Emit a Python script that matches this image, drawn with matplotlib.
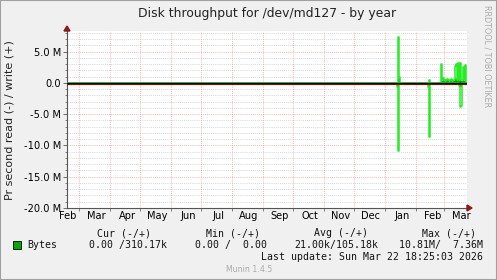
import datetime as dt
import matplotlib
matplotlib.use("Agg")
import matplotlib.pyplot as plt
import matplotlib.dates as mdates
import matplotlib.transforms as mtrans
from matplotlib.ticker import FuncFormatter, MultipleLocator
import numpy as np

W, H = 497, 280

# graph window (400 days)
start = dt.date(2025, 2, 17)
ndays = 400

# per day values (bytes/s), other days are zero
write_days = ["2026-01-14", "2026-01-15", "2026-02-14", "2026-02-26", "2026-02-27",
              "2026-02-28", "2026-03-01", "2026-03-02", "2026-03-03", "2026-03-04",
              "2026-03-05", "2026-03-06", "2026-03-07", "2026-03-08", "2026-03-09",
              "2026-03-10", "2026-03-11", "2026-03-12", "2026-03-13", "2026-03-14",
              "2026-03-15", "2026-03-16", "2026-03-17", "2026-03-18", "2026-03-19",
              "2026-03-20", "2026-03-21", "2026-03-22"]
write_vals = [7.36, 1.0, 0.5, 3.0, 0.4,
              0.75, 0.4, 0.35, 0.4, 0.7,
              0.4, 0.35, 0.4, 0.6, 0.35,
              0.4, 0.45, 2.7, 3.0, 0.5,
              3.15, 0.5, 3.25, 0.4, 0.4,
              2.6, 0.4, 2.8]
read_days = ["2026-01-13", "2026-01-14", "2026-02-13", "2026-02-14",
             "2026-03-16", "2026-03-17", "2026-03-18"]
read_vals = [0.6, 10.81, 0.6, 8.6, 0.5, 3.9, 3.7]

month_names = ["Feb", "Mar", "Apr", "May", "Jun", "Jul", "Aug", "Sep",
               "Oct", "Nov", "Dec", "Jan", "Feb", "Mar"]

legend_head = ["Cur (-/+)", "Min (-/+)", "Avg (-/+)", "Max (-/+)"]
legend_vals = ["0.00 /310.17k", "0.00 /  0.00", "21.00k/105.18k", "10.81M/  7.36M"]

days = [start + dt.timedelta(days=i) for i in range(ndays + 1)]
write = np.zeros(len(days))
read = np.zeros(len(days))
for d, v in zip(write_days, write_vals):
    write[(dt.date.fromisoformat(d) - start).days] = v * 1e6
for d, v in zip(read_days, read_vals):
    read[(dt.date.fromisoformat(d) - start).days] = -v * 1e6
x = mdates.date2num(days)

fig = plt.figure(figsize=(W / 100, H / 100), dpi=100, facecolor="#f0f0f0")

def fx(px):
    return px / W

def fy(py):
    return 1 - py / H

ax = fig.add_axes([fx(67), fy(208), fx(400), (208 - 31) / H])
ax.set_facecolor("#ffffff")
ax.set_xlim(x[0], x[-1])
ax.set_ylim(-20e6, 8.3e6)

# grid
for v in np.arange(-19e6, 8.5e6, 1e6):
    if abs(v % 5e6) > 1:
        ax.axhline(v, color="#c8c8c8", lw=0.6, ls=(0, (1, 1.5)), zorder=1)
for v in [5e6, -5e6, -10e6, -15e6]:
    ax.axhline(v, color="#f0a0a0", lw=0.6, ls=(0, (1, 1.5)), zorder=1)
month_starts = []
for yr, mo in [(2025, m) for m in range(3, 13)] + [(2026, m) for m in range(1, 4)]:
    month_starts.append(mdates.date2num(dt.date(yr, mo, 1)))
for m in month_starts:
    ax.axvline(m, color="#f0a0a0", lw=0.6, ls=(0, (1, 1.5)), zorder=1)

# data
ax.plot(x, write, color="#22ee22", lw=1.1, drawstyle="steps-mid", zorder=3)
ax.plot(x, read, color="#22ee22", lw=1.1, drawstyle="steps-mid", zorder=3)
ax.fill_between(x, 0, np.clip(write, 0, 0.8e6), step="mid", color="#00aa00", lw=0, zorder=2)
ax.fill_between(x, 0, np.clip(read, -0.6e6, 0), step="mid", color="#00aa00", lw=0, zorder=2)

# zero line
off = mtrans.offset_copy(ax.transData, fig=fig, x=0, y=-1, units="dots")
ax.plot([x[0], x[-1]], [0, 0], color="#bb0000", lw=0.8, zorder=4, transform=off)
ax.plot([x[0], x[-1]], [0, 0], color="black", lw=1.0, zorder=5)

for s in ["top", "right"]:
    ax.spines[s].set_visible(False)
for s in ["left", "bottom"]:
    ax.spines[s].set_color("#555555")
    ax.spines[s].set_linewidth(0.8)

ax.yaxis.set_major_locator(MultipleLocator(5e6))
ax.yaxis.set_minor_locator(MultipleLocator(1e6))

def yfmt(v, pos):
    if abs(v) < 1:
        return "0.0"
    return "%.1f M" % (v / 1e6)

ax.yaxis.set_major_formatter(FuncFormatter(yfmt))
ax.tick_params(axis="y", which="major", length=3, width=0.6, color="#555555",
               labelsize=7.1, pad=1.5)
ax.tick_params(axis="y", which="minor", length=1.5, width=0.5, color="#555555")

ax.set_xticks(month_starts)
ax.set_xticklabels([])
ax.tick_params(axis="x", which="major", length=2, width=0.5, color="#555555")
label_pos = [mdates.date2num(dt.date(2025, m, 18)) for m in range(2, 13)] + \
            [mdates.date2num(dt.date(2026, m, 18)) for m in range(1, 4)]
ax.set_xticks(label_pos, minor=True)
ax.set_xticklabels(month_names, minor=True)
ax.tick_params(axis="x", which="minor", length=0, labelsize=7.1, pad=2)

# arrows
fig.patches.append(plt.Polygon([[fx(64), fy(31)], [fx(70), fy(31)], [fx(67), fy(26)]],
                               closed=True, color="#8b1a1a", transform=fig.transFigure))
fig.patches.append(plt.Polygon([[fx(467), fy(205)], [fx(467), fy(211)], [fx(472), fy(208)]],
                               closed=True, color="#8b1a1a", transform=fig.transFigure))

# texts
fig.text(fx(267), fy(13), "Disk throughput for /dev/md127 - by year",
         ha="center", va="center", fontsize=8.9, color="#222222")
fig.text(fx(10), fy(120), "Pr second read (-) / write (+)", rotation=90,
         ha="center", va="center", fontsize=8.0, color="#222222")
fig.text(fx(487), fy(5), "RRDTOOL / TOBI OETIKER", rotation=270,
         ha="center", va="top", fontsize=5.8, color="#aaaaaa")

mono = "DejaVu Sans Mono"
head_right = [151, 260, 368, 476]
val_right = [167, 267, 378, 483]
for t, r in zip(legend_head, head_right):
    fig.text(fx(r), fy(233), t, ha="right", va="center", fontsize=7.1,
             family=mono, color="#111111")
fig.patches.append(plt.Rectangle((fx(13), fy(249)), fx(8), 8 / H, facecolor="#00aa00",
                                 edgecolor="black", lw=0.6, transform=fig.transFigure))
fig.text(fx(27), fy(245), "Bytes", ha="left", va="center", fontsize=7.1,
         family=mono, color="#111111")
for t, r in zip(legend_vals, val_right):
    fig.text(fx(r), fy(245), t, ha="right", va="center", fontsize=7.1,
             family=mono, color="#111111")
fig.text(fx(483), fy(257), "Last update: Sun Mar 22 18:25:03 2026", ha="right",
         va="center", fontsize=7.1, family=mono, color="#111111")
fig.text(fx(249), fy(269), "Munin 1.4.5", ha="center", va="center", fontsize=5.6,
         color="#aaaaaa")

# frame
fig.patches.append(plt.Rectangle((0, 0), 1, 1, fill=False, edgecolor="#a0a0a0", lw=1.5,
                                 transform=fig.transFigure))

fig.savefig("out.png", dpi=100, facecolor=fig.get_facecolor())
